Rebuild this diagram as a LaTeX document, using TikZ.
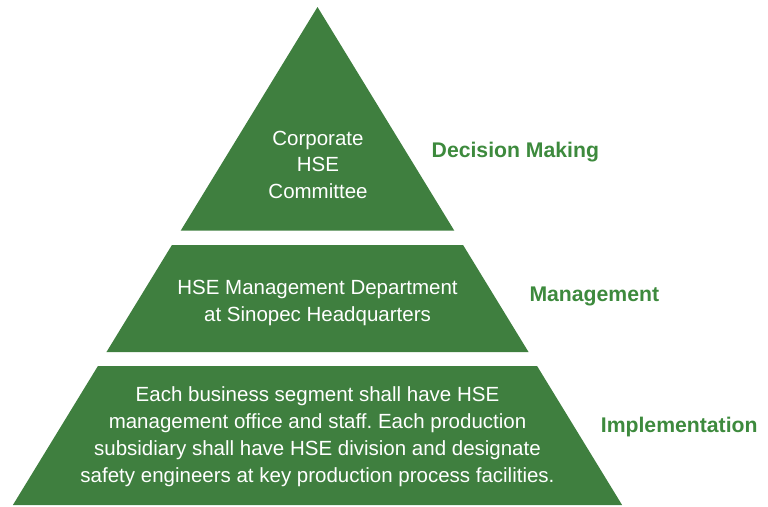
\documentclass[tikz,border=0pt]{standalone}
\usepackage{fontspec}
\setmainfont{Liberation Sans}
\usetikzlibrary{calc}
\definecolor{tiergreen}{RGB}{63,127,63}
\definecolor{labelgreen}{RGB}{61,138,61}
\frenchspacing
\begin{document}
\begin{tikzpicture}[x=1pt,y=-1pt,
  tier/.style={fill=tiergreen,draw=none},
  tiertext/.style={text=white,font=\fontsize{20.5}{26.7}\selectfont,inner sep=0pt,anchor=base},
  level/.style={text=labelgreen,font=\fontsize{21.2}{25}\selectfont\bfseries,inner sep=0pt,anchor=base west}]
\useasboundingbox (0,0) rectangle (768,506);
\coordinate (apex) at (317.5,7);
\coordinate (bl) at (12.9,505);
\coordinate (br) at (622.1,505);
% top tier
\fill[tier] (apex) -- ($(apex)!0.4492!(br)$) -- ($(apex)!0.4492!(bl)$) -- cycle;
% middle tier
\fill[tier] ($(apex)!0.4779!(bl)$) -- ($(apex)!0.4779!(br)$) -- ($(apex)!0.6928!(br)$) -- ($(apex)!0.6928!(bl)$) -- cycle;
% bottom tier
\fill[tier] ($(apex)!0.7209!(bl)$) -- ($(apex)!0.7209!(br)$) -- (br) -- (bl) -- cycle;
% top text
\node[tiertext] (t1) at (318,145) {Corporate};
\node[tiertext] (t2) at (318,171.7) {HSE};
\node[tiertext] (t3) at (318,198) {Committee};
% middle text
\node[tiertext] (m1) at (317.5,294) {HSE Management Department};
\node[tiertext] (m2) at (317.5,321) {at Sinopec Headquarters};
% bottom text
\node[tiertext] (b1) at (317.5,401.5) {Each business segment shall have HSE};
\node[tiertext] (b2) at (317.5,428.5) {management office and staff. Each production};
\node[tiertext] (b3) at (317.5,455.5) {subsidiary shall have HSE division and designate};
\node[tiertext] (b4) at (317.5,482.5) {safety engineers at key production process facilities.};
% level labels
\node[level] (l1) at (431.5,157) {Decision Making};
\node[level] (l2) at (529.3,301) {Management};
\node[level] (l3) at (600.7,432.7) {Implementation};
\end{tikzpicture}
\end{document}
